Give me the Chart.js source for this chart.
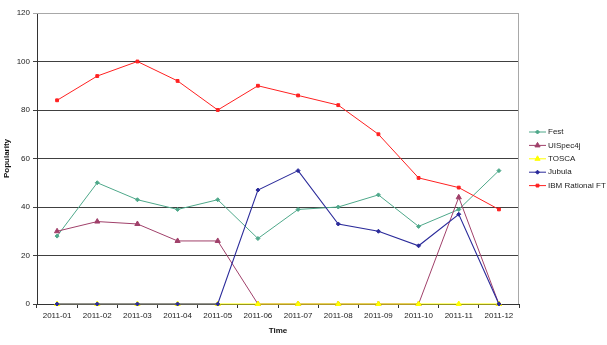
<!DOCTYPE html>
<html lang="en">
<head>
    <meta charset="UTF-8">
    <title>Popularity</title>
    <style>
        body {
            margin: 0;
            background-color: white;
        }
        #wrap {
            width: 607px;
            height: 345px;
        }
    </style>
</head>
<body>
    <div id="wrap"><canvas id="popChart" width="607" height="345"></canvas></div>
    <script src="https://cdn.jsdelivr.net/npm/chart.js"></script>
    <script>
        const months = ['2011-01', '2011-02', '2011-03', '2011-04', '2011-05', '2011-06',
                        '2011-07', '2011-08', '2011-09', '2011-10', '2011-11', '2011-12'];
        const seriesNames = ['Fest', 'UISpec4j', 'TOSCA', 'Jubula', 'IBM Rational FT'];
        const fest = [28, 50, 43, 39, 43, 27, 39, 40, 45, 32, 39, 55];
        const uispec4j = [30, 34, 33, 26, 26, 0, 0, 0, 0, 0, 44, 0];
        const tosca = [0, 0, 0, 0, 0, 0, 0, 0, 0, 0, 0, 0];
        const jubula = [0, 0, 0, 0, 0, 47, 55, 33, 30, 24, 37, 0];
        const ibm = [84, 94, 100, 92, 80, 90, 86, 82, 70, 52, 48, 39];
        const yTicks = [0, 20, 40, 60, 80, 100, 120];

        const seriesData = [fest, uispec4j, tosca, jubula, ibm];
        const colors = ['#4ea88a', '#a0406a', '#ffff00', '#2a2a9a', '#ff2020'];
        const markers = ['rectRot', 'triangle', 'triangle', 'rectRot', 'rect'];
        const markerSize = [2, 3, 3, 2, 2];
        const lineWidths = [1, 1, 1.2, 1.1, 1];

        const font = 'Liberation Sans, Arial, sans-serif';

        // legend drawn by hand, Excel style: line with the marker in the middle
        const excelLegend = {
            id: 'excelLegend',
            afterDraw(chart) {
                const ctx = chart.ctx;
                ctx.save();
                seriesNames.forEach((name, i) => {
                    const y = 132 + i * 13.4;
                    ctx.strokeStyle = colors[i];
                    ctx.lineWidth = 1;
                    ctx.beginPath();
                    ctx.moveTo(529, y);
                    ctx.lineTo(546, y);
                    ctx.stroke();
                    ctx.fillStyle = colors[i];
                    Chart.helpers.drawPoint(ctx, {
                        pointStyle: markers[i],
                        radius: markerSize[i],
                        borderWidth: 1
                    }, 537.5, y);
                    ctx.fillStyle = '#222';
                    ctx.font = '8px ' + font;
                    ctx.textBaseline = 'middle';
                    ctx.fillText(name, 548, y);
                });
                // plot border top/right
                const a = chart.chartArea;
                ctx.strokeStyle = '#a8a8a8';
                ctx.lineWidth = 1;
                ctx.beginPath();
                ctx.moveTo(a.left, a.top + 0.5);
                ctx.lineTo(a.right - 0.5, a.top + 0.5);
                ctx.lineTo(a.right - 0.5, a.bottom);
                ctx.stroke();
                ctx.restore();
            }
        };

        const datasets = seriesData.map((values, i) => ({
            label: seriesNames[i],
            data: values,
            borderColor: colors[i],
            backgroundColor: colors[i],
            borderWidth: lineWidths[i],
            pointStyle: markers[i],
            pointRadius: markerSize[i],
            pointBorderWidth: 1,
            pointHoverRadius: markerSize[i],
            tension: 0,
            clip: 4,
            order: seriesNames.length - i
        }));

        new Chart(document.getElementById('popChart'), {
            type: 'line',
            data: { labels: months, datasets: datasets },
            plugins: [excelLegend],
            options: {
                responsive: false,
                animation: false,
                layout: { padding: { top: 13, right: 88, left: 2, bottom: 9 } },
                plugins: {
                    legend: { display: false },
                    tooltip: { enabled: false }
                },
                scales: {
                    x: {
                        offset: true,
                        grid: {
                            drawOnChartArea: false,
                            color: '#333',
                            tickLength: 4,
                            offset: true
                        },
                        border: { color: '#333' },
                        ticks: {
                            color: '#222',
                            font: { family: font, size: 8 },
                            maxRotation: 0,
                            autoSkip: false,
                            padding: 3
                        },
                        title: {
                            display: true,
                            text: 'Time',
                            color: '#111',
                            font: { family: font, size: 8, weight: 'bold' },
                            padding: { top: 4, bottom: 0 }
                        },
                        afterFit(scale) { scale.height = 32; }
                    },
                    y: {
                        min: 0,
                        max: 120,
                        afterBuildTicks(scale) {
                            scale.ticks = yTicks.map(v => ({ value: v }));
                        },
                        grid: {
                            color: ctx => ctx.tick && ctx.tick.value === 120 ? '#a8a8a8' : '#404040',
                            tickLength: 4
                        },
                        border: { color: '#333' },
                        ticks: {
                            color: '#222',
                            font: { family: font, size: 8 },
                            padding: 3
                        },
                        title: {
                            display: true,
                            text: 'Popularity',
                            color: '#111',
                            font: { family: font, size: 8, weight: 'bold' },
                            padding: { top: 0, bottom: 4 }
                        },
                        afterFit(scale) { scale.width = 35; }
                    }
                }
            }
        });
    </script>
</body>
</html>
